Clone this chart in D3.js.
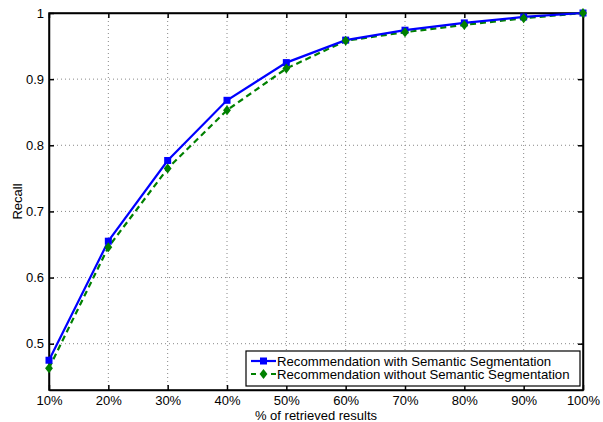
<!DOCTYPE html>
<html><head><meta charset="utf-8">
<script src="https://cdn.jsdelivr.net/npm/d3@7"></script>
<style>body{margin:0;background:#fff}svg{display:block;font-family:"Liberation Sans",Arial,sans-serif}</style>
</head><body>
<svg id="c" width="603" height="422"></svg>
<script>
const categories = ["10%","20%","30%","40%","50%","60%","70%","80%","90%","100%"];
const withSeg =    [0.475,0.655,0.777,0.868,0.925,0.959,0.974,0.985,0.994,1.0];
const withoutSeg = [0.463,0.646,0.765,0.853,0.916,0.958,0.971,0.982,0.992,1.0];
const yTicks = [0.5,0.6,0.7,0.8,0.9,1];
const yTickLabels = ["0.5","0.6","0.7","0.8","0.9","1"];
const seriesNames = ["Recommendation with Semantic Segmentation","Recommendation without Semantic Segmentation"];

const svg = d3.select("#c");
const L=49, R=583, T=13, B=390;
const x = d3.scalePoint().domain(categories).range([L,R]);
const y = d3.scaleLinear().domain([0.43,1]).range([B,T]);
const FS = 13;

// grid
const g = svg.append("g");
categories.forEach((c,i)=>{ if(i>0 && i<categories.length-1) g.append("line").attr("x1",x(c)).attr("x2",x(c)).attr("y1",T).attr("y2",B).attr("stroke","#888").attr("stroke-dasharray","1,3"); });
yTicks.forEach(v=>{ if(v<1) g.append("line").attr("x1",L).attr("x2",R).attr("y1",y(v)).attr("y2",y(v)).attr("stroke","#888").attr("stroke-dasharray","1,3"); });

// axes
const xb = svg.append("g").attr("transform",`translate(0,${B})`).call(d3.axisBottom(x).tickSizeInner(-5).tickSizeOuter(0).tickPadding(6));
const xt = svg.append("g").attr("transform",`translate(0,${T})`).call(d3.axisTop(x).tickSizeInner(-5).tickSizeOuter(0).tickFormat(""));
const yl = svg.append("g").attr("transform",`translate(${L},0)`).call(d3.axisLeft(y).tickValues(yTicks).tickFormat((d,i)=>yTickLabels[i]).tickSizeInner(-5).tickSizeOuter(0).tickPadding(5));
const yr = svg.append("g").attr("transform",`translate(${R},0)`).call(d3.axisRight(y).tickValues(yTicks).tickFormat("").tickSizeInner(-5).tickSizeOuter(0));
[xb,xt,yl,yr].forEach(a=>{a.selectAll("path").attr("stroke","#000").attr("stroke-width",1.5);a.selectAll("line").attr("stroke","#000").attr("stroke-width",1.5);a.selectAll("text").attr("font-size",FS).attr("fill","#000").attr("font-family","Liberation Sans, Arial, sans-serif");});
svg.append("rect").attr("x",L).attr("y",T).attr("width",R-L).attr("height",B-T).attr("fill","none").attr("stroke","#000").attr("stroke-width",1.5);

// lines
const line = d3.line().x((d,i)=>x(categories[i])).y(d=>y(d));
svg.append("path").datum(withoutSeg).attr("d",line).attr("fill","none").attr("stroke","#008000").attr("stroke-width",2.2).attr("stroke-dasharray","6,4");
svg.append("path").datum(withSeg).attr("d",line).attr("fill","none").attr("stroke","#0000ff").attr("stroke-width",2.2);
svg.selectAll(".sq").data(withSeg).enter().append("rect").attr("x",(d,i)=>x(categories[i])-3.5).attr("y",d=>y(d)-3.5).attr("width",7).attr("height",7).attr("fill","#0000ff");
const diamond = d3.symbol().type(d3.symbolDiamond).size(40);
svg.selectAll(".dm").data(withoutSeg).enter().append("path").attr("d",diamond).attr("transform",(d,i)=>`translate(${x(categories[i])},${y(d)}) scale(1.15,0.85)`).attr("fill","#008000");

// legend
const lg = svg.append("g");
lg.append("rect").attr("x",246).attr("y",351).attr("width",334).attr("height",35).attr("fill","#fff").attr("stroke","#000").attr("stroke-width",1.2);
lg.append("line").attr("x1",251).attr("x2",276).attr("y1",361).attr("y2",361).attr("stroke","#0000ff").attr("stroke-width",2.2);
lg.append("rect").attr("x",260).attr("y",357.5).attr("width",7).attr("height",7).attr("fill","#0000ff");
lg.append("line").attr("x1",251).attr("x2",276).attr("y1",374).attr("y2",374).attr("stroke","#008000").attr("stroke-width",2.2).attr("stroke-dasharray","5,5");
lg.append("path").attr("d",diamond).attr("transform","translate(263.5,374) scale(1.15,0.85)").attr("fill","#008000");
lg.append("text").attr("x",277).attr("y",365.5).attr("font-size",13.2).text(seriesNames[0]);
lg.append("text").attr("x",277).attr("y",379).attr("font-size",13.2).text(seriesNames[1]);

// axis labels
svg.append("text").attr("x",(L+R)/2).attr("y",420).attr("text-anchor","middle").attr("font-size",FS).text("% of retrieved results");
svg.append("text").attr("transform",`translate(22,${(T+B)/2}) rotate(-90)`).attr("text-anchor","middle").attr("font-size",FS).text("Recall");
</script>
</body></html>
